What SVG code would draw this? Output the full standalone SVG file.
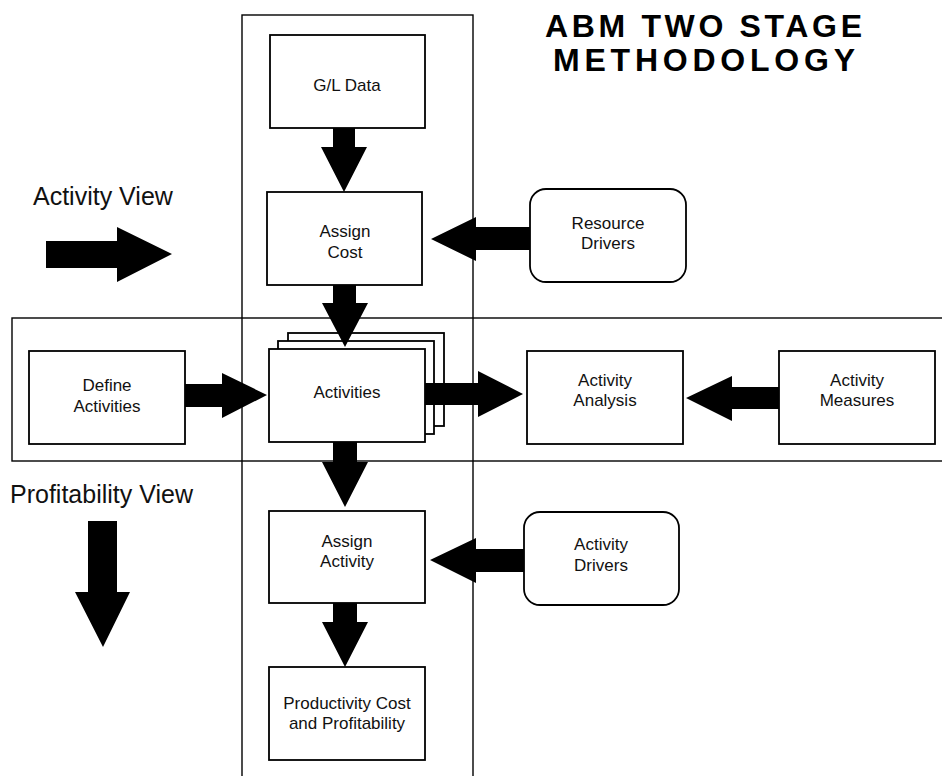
<svg xmlns="http://www.w3.org/2000/svg" width="942" height="776" viewBox="0 0 942 776">
<style>
.band{fill:none;stroke:#000;stroke-width:1.4}
.box{fill:#fff;stroke:#000;stroke-width:1.8}
.lbl{font-family:"Liberation Sans",Arial,sans-serif;font-size:17px;fill:#111;text-anchor:middle}
.view{font-family:"Liberation Sans",Arial,sans-serif;font-size:25px;fill:#111}
.title{font-family:"Liberation Sans",Arial,sans-serif;font-size:32px;font-weight:bold;fill:#000}
.arr{fill:#000;stroke:none}
</style>
<rect width="942" height="776" fill="#fff"/>
<g id="bands">
<rect class="band" x="242" y="15" width="231" height="770"/>
<rect class="band" x="12" y="318" width="940" height="143"/>
</g>
<g id="title">
<text class="title" x="545" y="37" textLength="317" lengthAdjust="spacing">ABM TWO STAGE</text>
<text class="title" x="553" y="71" textLength="302" lengthAdjust="spacing">METHODOLOGY</text>
</g>
<g id="legend">
<text class="view" x="33" y="205">Activity View</text>
<polygon class="arr" points="46,241 117,241 117,227 172,254 117,282 117,268 46,268"/>
<text class="view" x="10" y="503">Profitability View</text>
<polygon class="arr" points="88,521 117,521 117,592 130,592 103,647 75,592 88,592"/>
</g>
<g id="gl-data">
<rect class="box" x="270" y="35" width="155" height="93"/>
<text class="lbl" x="347" y="91">G/L Data</text>
</g>
<g id="assign-cost">
<rect class="box" x="267" y="192" width="155" height="93"/>
<text class="lbl" x="345" y="237">Assign</text>
<text class="lbl" x="345" y="258">Cost</text>
</g>
<g id="resource-drivers">
<rect class="box" x="530" y="189" width="156" height="93" rx="16"/>
<text class="lbl" x="608" y="229">Resource</text>
<text class="lbl" x="608" y="249">Drivers</text>
</g>
<g id="define-activities">
<rect class="box" x="29" y="351" width="156" height="93"/>
<text class="lbl" x="107" y="391">Define</text>
<text class="lbl" x="107" y="412">Activities</text>
</g>
<g id="activities">
<rect class="box" x="288" y="333" width="156" height="93"/>
<rect class="box" x="278" y="341" width="156" height="93"/>
<rect class="box" x="269" y="349" width="156" height="93"/>
<text class="lbl" x="347" y="398">Activities</text>
</g>
<g id="activity-analysis">
<rect class="box" x="527" y="351" width="156" height="93"/>
<text class="lbl" x="605" y="386">Activity</text>
<text class="lbl" x="605" y="406">Analysis</text>
</g>
<g id="activity-measures">
<rect class="box" x="779" y="351" width="156" height="93"/>
<text class="lbl" x="857" y="386">Activity</text>
<text class="lbl" x="857" y="406">Measures</text>
</g>
<g id="assign-activity">
<rect class="box" x="269" y="511" width="156" height="92"/>
<text class="lbl" x="347" y="547">Assign</text>
<text class="lbl" x="347" y="567">Activity</text>
</g>
<g id="activity-drivers">
<rect class="box" x="524" y="512" width="155" height="93" rx="16"/>
<text class="lbl" x="601" y="550">Activity</text>
<text class="lbl" x="601" y="571">Drivers</text>
</g>
<g id="productivity">
<rect class="box" x="269" y="667" width="156" height="93"/>
<text class="lbl" x="347" y="709">Productivity Cost</text>
<text class="lbl" x="347" y="729">and Profitability</text>
</g>
<g id="connectors">
<polygon class="arr" points="333,128 355,128 355,147 367,147 344,192 321,147 333,147"/>
<polygon class="arr" points="333,285 356,285 356,303 368,303 345,347 322,303 333,303"/>
<polygon class="arr" points="333,442 357,442 357,462 368,462 345,507 322,462 333,462"/>
<polygon class="arr" points="333,603 357,603 357,622 368,622 345,667 322,622 333,622"/>
<polygon class="arr" points="185,384 222,384 222,373 267,395 222,418 222,407 185,407"/>
<polygon class="arr" points="425,383 478,383 478,371 523,394 478,417 478,405 425,405"/>
<polygon class="arr" points="779,387 732,387 732,376 686,398 732,421 732,409 779,409"/>
<polygon class="arr" points="530,227 476,227 476,217 431,239 476,261 476,250 530,250"/>
<polygon class="arr" points="524,549 476,549 476,538 430,560 476,583 476,572 524,572"/>
</g>
</svg>
